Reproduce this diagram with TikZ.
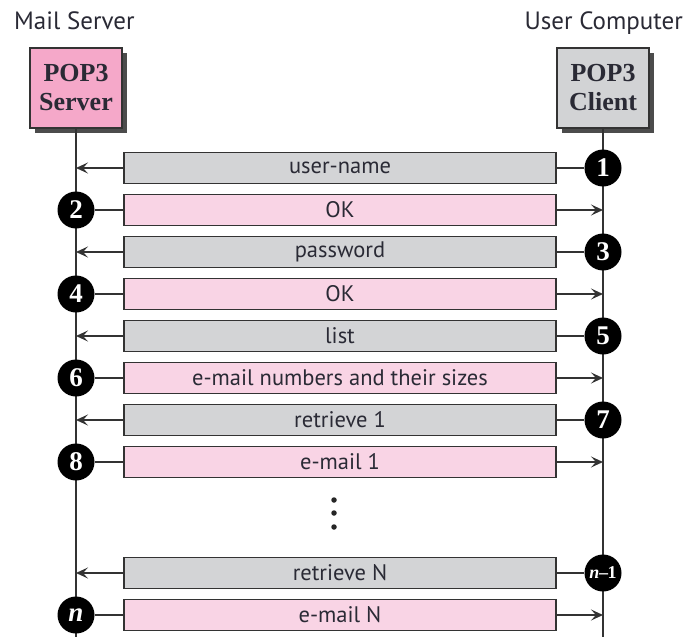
\documentclass[tikz,border=0pt]{standalone}
\usepackage{fontspec}
\setmainfont{Liberation Serif}
\setsansfont{PT Sans}
\usetikzlibrary{arrows.meta,shadows}
\definecolor{boxpink}{HTML}{F5A8C9}
\definecolor{barpink}{HTML}{F9D4E5}
\definecolor{bargray}{HTML}{D3D4D6}
\definecolor{boxgray}{HTML}{D2D3D5}
\definecolor{ink}{HTML}{333333}
\definecolor{txt}{HTML}{2A2A35}
\tikzset{
  hdr/.style={font=\sffamily\fontsize{25}{28}\selectfont, text=txt, inner sep=0},
  proc/.style={draw=ink, line width=1.5pt, minimum width=92pt, minimum height=80pt,
    inner sep=0, align=center, text=txt,
    font=\bfseries\fontsize{26}{29}\selectfont,
    drop shadow={shadow xshift=5pt, shadow yshift=-5pt, fill=black!70, opacity=1}},
  msg/.style={draw=ink, line width=1.3pt, minimum width=432pt, minimum height=31pt,
    inner sep=0, text=txt, font=\sffamily\fontsize{22.5}{24}\selectfont},
  req/.style={msg, fill=bargray},
  rep/.style={msg, fill=barpink},
  num/.style={circle, fill=black, text=white, minimum size=37pt, inner sep=0,
    font=\bfseries\fontsize{27}{27}\selectfont},
  life/.style={draw=ink, line width=1.3pt},
  arr/.style={draw=ink, line width=1.3pt,
    -{Stealth[length=12pt, width=11pt, inset=5pt]}},
  dot/.style={circle, fill=black!85, minimum size=5.5pt, inner sep=0}
}
\begin{document}
\begin{tikzpicture}[x=1pt, y=-1pt]
\useasboundingbox (0,0) rectangle (686,637);

% headings
\node[hdr, anchor=base west] (hms) at (14,30) {Mail Server};
\node[hdr, anchor=base east] (huc) at (683,30) {User Computer};

% processes
\node[proc, fill=boxpink] (srv) at (76,88) {POP3\\Server};
\node[proc, fill=boxgray] (cli) at (603,88) {POP3\\Client};

% lifelines
\coordinate (srvend) at (76,637);
\coordinate (cliend) at (603,637);
\draw[life] (srv.south) -- (srvend);
\draw[life] (cli.south) -- (cliend);

% lifeline points for each message row
\foreach \i/\y in {1/168,2/210,3/252,4/294,5/336,6/378,7/420,8/462,9/573,10/615}{
  \coordinate (L\i) at (76,\y);
  \coordinate (R\i) at (603,\y);
}

% message bars
\node[req] (m1)  at (340,168) {user-name};
\node[rep] (m2)  at (340,210) {OK};
\node[req] (m3)  at (340,252) {password};
\node[rep] (m4)  at (340,294) {OK};
\node[req] (m5)  at (340,336) {list};
\node[rep] (m6)  at (340,378) {e-mail numbers and their sizes};
\node[req] (m7)  at (340,420) {retrieve 1};
\node[rep] (m8)  at (340,462) {e-mail 1};
\node[req] (m9)  at (340,573) {retrieve N};
\node[rep] (m10) at (340,615) {e-mail N};

% step markers
\node[num] (c1)  at (R1) {1};
\node[num] (c2)  at (L2) {2};
\node[num] (c3)  at (R3) {3};
\node[num] (c4)  at (L4) {4};
\node[num] (c5)  at (R5) {5};
\node[num] (c6)  at (L6) {6};
\node[num] (c7)  at (R7) {7};
\node[num] (c8)  at (L8) {8};
\node[num, font=\bfseries\fontsize{18}{18}\selectfont] (c9) at (R9) {\textit{n}\kern-0.5pt--\kern-0.5pt1};
\node[num] (c10) at (L10) {\textit{n}};

% client-to-server requests
\foreach \i in {1,3,5,7,9}{
  \draw[life] (c\i) -- (m\i.east);
  \draw[arr] (m\i.west) -- (L\i);
}
% server-to-client replies
\foreach \i in {2,4,6,8,10}{
  \draw[life] (c\i) -- (m\i.west);
  \draw[arr] (m\i.east) -- (R\i);
}

% elided exchanges
\node[dot] (d1) at (334,500) {};
\node[dot] (d2) at (334,513) {};
\node[dot] (d3) at (334,527) {};
\end{tikzpicture}
\end{document}
